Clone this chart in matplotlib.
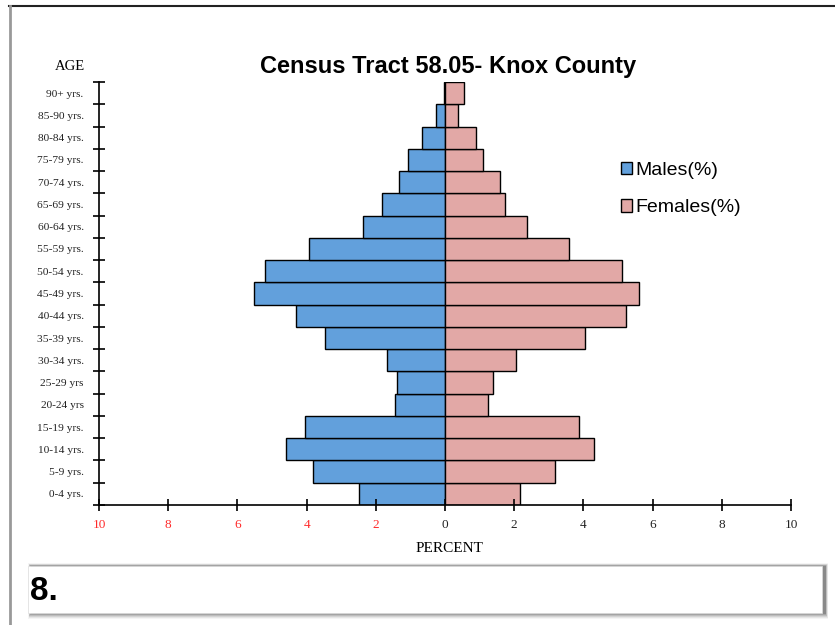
import numpy as np
import matplotlib
matplotlib.use('Agg')
import matplotlib.pyplot as plt
from matplotlib.patches import Rectangle
from matplotlib.lines import Line2D

ages = ['0-4 yrs.', '5-9 yrs.', '10-14 yrs.', '15-19 yrs.', '20-24 yrs', '25-29 yrs',
        '30-34 yrs.', '35-39 yrs.', '40-44 yrs.', '45-49 yrs.', '50-54 yrs.', '55-59 yrs.',
        '60-64 yrs.', '65-69 yrs.', '70-74 yrs.', '75-79 yrs.', '80-84 yrs.', '85-90 yrs.',
        '90+ yrs.']
males = [2.49, 3.82, 4.60, 4.05, 1.44, 1.39, 1.68, 3.47, 4.31, 5.52, 5.20, 3.93,
         2.37, 1.82, 1.33, 1.07, 0.66, 0.26, 0.03]
females = [2.18, 3.19, 4.30, 3.88, 1.25, 1.40, 2.05, 4.06, 5.22, 5.62, 5.13, 3.59,
           2.38, 1.74, 1.59, 1.10, 0.90, 0.38, 0.55]
xticks = [-10, -8, -6, -4, -2, 0, 2, 4, 6, 8, 10]

W, H = 835, 625
fig = plt.figure(figsize=(W / 100, H / 100), dpi=100)

def fx(px):
    return px / W

def fy(py):
    return 1 - py / H

# page edges
fig.add_artist(Line2D([fx(9), fx(835)], [fy(6), fy(6)], color='#222222', lw=1.5))
fig.add_artist(Line2D([fx(10), fx(10)], [fy(6), fy(625)], color='#999999', lw=2))

ax = fig.add_axes([fx(99), fy(505), fx(791) - fx(99), fy(82) - fy(505)])
y = np.arange(len(ages))
ax.barh(y, [-m for m in males], height=1.0, color='#62a0dc', edgecolor='black', lw=1, label='Males(%)')
ax.barh(y, females, height=1.0, color='#e2a8a6', edgecolor='black', lw=1, label='Females(%)')
ax.set_xlim(-10, 10)
ax.set_ylim(-0.5, len(ages) - 0.5)

for s in ['top', 'right']:
    ax.spines[s].set_visible(False)
ax.spines['left'].set_linewidth(1.2)
ax.spines['bottom'].set_linewidth(1.2)

ax.set_yticks(np.arange(-0.5, len(ages), 1.0))
ax.set_yticklabels([])
ax.tick_params(axis='y', which='major', direction='inout', length=8, width=1.2)
ax.set_yticks(y, minor=True)
ax.set_yticklabels(ages, minor=True, fontsize=8.2, family='Liberation Serif', color='#222222')
ax.tick_params(axis='y', which='minor', length=0, pad=11)

ax.set_xticks(xticks)
ax.set_xticklabels([str(abs(v)) for v in xticks], fontsize=9.5, family='Liberation Serif')
for lab, v in zip(ax.get_xticklabels(), xticks):
    lab.set_color('#ff2a2a' if v < 0 else '#222222')
ax.tick_params(axis='x', direction='inout', length=8, width=1.2, pad=6)

fig.text(fx(448), fy(67), 'Census Tract 58.05- Knox County', ha='center', va='center',
         fontsize=17, fontweight='bold', family='Liberation Sans')
fig.text(fx(70), fy(66), 'AGE', ha='center', va='center', fontsize=10.5, family='Liberation Serif')
fig.text(fx(449), fy(548), 'PERCENT', ha='center', va='center', fontsize=11, family='Liberation Serif')

ax.legend(loc='center left', bbox_to_anchor=(fx(603), fy(189)), bbox_transform=fig.transFigure,
          frameon=False, prop={'family': 'Liberation Sans', 'size': 14},
          handlelength=0.6, handleheight=0.6, handletextpad=0.15, labelspacing=1.05)

# answer box with soft shadow
for i, a in enumerate([0.04, 0.06, 0.08, 0.10, 0.13, 0.16]):
    d = 6 - i
    fig.add_artist(Rectangle((fx(28 + 3 - d / 2), fy(613 + d)), fx(794 + d), fy(566 - d / 2) - fy(613 + d),
                             facecolor='black', alpha=a, edgecolor='none', transform=fig.transFigure))
fig.add_artist(Rectangle((fx(28), fy(613)), fx(794), fy(566) - fy(613), facecolor='white',
                         edgecolor='#dddddd', lw=0.5, transform=fig.transFigure))
fig.text(fx(30), fy(591), '8.', ha='left', va='center', fontsize=24, fontweight='bold',
         family='Liberation Sans')

fig.savefig('out.png', dpi=100)
